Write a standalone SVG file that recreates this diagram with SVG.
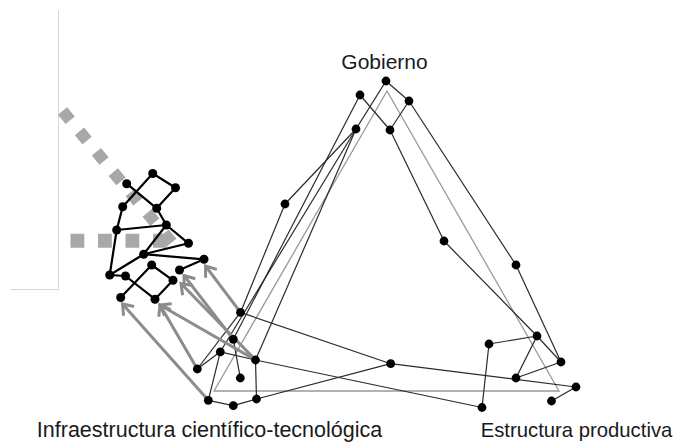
<svg xmlns="http://www.w3.org/2000/svg" width="694" height="442" viewBox="0 0 694 442">
<style>
.e{stroke:#2a2a2a;stroke-width:1.2;fill:none}
.t{stroke:#000;stroke-width:2.2;fill:none;stroke-linecap:round}
.a{stroke:#8c8c8c;stroke-width:3;fill:none;marker-end:url(#ah)}
.n{fill:#000}
.lbl{font-family:"Liberation Sans",Arial,sans-serif;fill:#1a1a1a}
</style>
<defs>
<marker id="ah" markerUnits="userSpaceOnUse" markerWidth="16" markerHeight="18" viewBox="-13 -9 16 18" refX="0" refY="0" orient="auto" overflow="visible">
<path d="M-9.5,-7 L0,0 L-9.5,7" fill="none" stroke="#8c8c8c" stroke-width="3"/>
</marker>
</defs>
<rect width="694" height="442" fill="#fff"/>
<g id="frame">
<line x1="58.5" y1="10" x2="58.5" y2="289.5" stroke="#d6d6d6" stroke-width="1"/>
<line x1="11" y1="289.5" x2="58.5" y2="289.5" stroke="#d6d6d6" stroke-width="1"/>
</g>
<g id="dashed">
<line x1="62.5" y1="111" x2="173" y2="244" stroke="#a8a8a8" stroke-width="12" stroke-dasharray="12 14.5"/>
<line x1="70.5" y1="240.8" x2="168" y2="240.8" stroke="#a8a8a8" stroke-width="14" stroke-dasharray="13.8 13.7"/>
</g>
<g id="triangle">
<polygon points="387,91 214,391 559,391" fill="none" stroke="#999" stroke-width="1.3"/>
</g>
<g id="connectors">
<line class="e" x1="386" y1="81" x2="409" y2="101"/>
<line class="e" x1="386" y1="81" x2="356" y2="129"/>
<line class="e" x1="360" y1="95" x2="390" y2="130"/>
<line class="e" x1="390" y1="130" x2="409" y2="101"/>
<line class="e" x1="409" y1="101" x2="516" y2="265"/>
<line class="e" x1="390" y1="130" x2="444" y2="241"/>
<line class="e" x1="444" y1="241" x2="537" y2="336"/>
<line class="e" x1="537" y1="336" x2="561" y2="362"/>
<line class="e" x1="516" y1="265" x2="561" y2="362"/>
<line class="e" x1="489" y1="344" x2="537" y2="336"/>
<line class="e" x1="537" y1="336" x2="516" y2="378"/>
<line class="e" x1="516" y1="378" x2="561" y2="362"/>
<line class="e" x1="489" y1="344" x2="482" y2="407.5"/>
<line class="e" x1="390.7" y1="363.7" x2="576" y2="387"/>
<line class="e" x1="551.5" y1="401" x2="576" y2="387"/>
<line class="e" x1="220.3" y1="351.8" x2="255.5" y2="360"/>
<line class="e" x1="255.5" y1="360" x2="482" y2="407.5"/>
<line class="e" x1="240.5" y1="312.4" x2="390.7" y2="363.7"/>
<line class="e" x1="390.7" y1="363.7" x2="256.5" y2="399"/>
<line class="e" x1="256.5" y1="399" x2="233.3" y2="405.7"/>
<line class="e" x1="233.3" y1="405.7" x2="208.3" y2="400.3"/>
<line class="e" x1="208.3" y1="400.3" x2="220.3" y2="351.8"/>
<line class="e" x1="220.3" y1="351.8" x2="197.3" y2="369"/>
<line class="e" x1="240.5" y1="312.4" x2="197.3" y2="369"/>
<line class="e" x1="285" y1="204" x2="240.5" y2="312.4"/>
<line class="e" x1="356" y1="129" x2="285" y2="204"/>
<line class="e" x1="360" y1="95" x2="233.3" y2="339.3"/>
<line class="e" x1="356" y1="129" x2="220.3" y2="351.8"/>
<line class="e" x1="356" y1="129" x2="255.5" y2="360"/>
<line class="e" x1="255.5" y1="360" x2="256.5" y2="399"/>
<line class="e" x1="233.3" y1="339.3" x2="240.3" y2="378"/>
<line class="t" x1="152.7" y1="173.5" x2="175.5" y2="187.8"/>
<line class="t" x1="152.7" y1="173.5" x2="122.7" y2="206.7"/>
<line class="t" x1="126.7" y1="183.7" x2="156.7" y2="208.3"/>
<line class="t" x1="175.5" y1="187.8" x2="156.7" y2="208.3"/>
<line class="t" x1="122.7" y1="206.7" x2="116.7" y2="230"/>
<line class="t" x1="156.7" y1="208.3" x2="166.3" y2="225"/>
<line class="t" x1="116.7" y1="230" x2="166.3" y2="225"/>
<line class="t" x1="166.3" y1="225" x2="188.5" y2="243.3"/>
<line class="t" x1="166.3" y1="225" x2="143.7" y2="254.2"/>
<line class="t" x1="188.5" y1="243.3" x2="143.7" y2="254.2"/>
<line class="t" x1="116.7" y1="230" x2="109.7" y2="275"/>
<line class="t" x1="143.7" y1="254.2" x2="109.7" y2="275"/>
<line class="t" x1="143.7" y1="254.2" x2="204" y2="259.3"/>
<line class="t" x1="109.7" y1="275" x2="125.5" y2="276"/>
<line class="t" x1="125.5" y1="276" x2="155" y2="299.2"/>
<line class="t" x1="151.7" y1="265" x2="120.7" y2="297.5"/>
<line class="t" x1="151.7" y1="265" x2="173" y2="280.3"/>
<line class="t" x1="173" y1="280.3" x2="155" y2="299.2"/>
<line class="t" x1="179.5" y1="270" x2="204" y2="259.3"/>
<line class="a" x1="240.5" y1="312.4" x2="205.5" y2="266"/>
<line class="a" x1="233.3" y1="339.3" x2="184" y2="275.5"/>
<line class="a" x1="255.5" y1="360" x2="181" y2="283.5"/>
<line class="a" x1="255.5" y1="360" x2="160" y2="305"/>
<line class="a" x1="197.3" y1="369" x2="160" y2="305"/>
<line class="a" x1="208.3" y1="400.3" x2="122.5" y2="304"/>
</g>
<g id="n1"><circle class="n" cx="386" cy="81" r="4.4"/></g>
<g id="n2"><circle class="n" cx="360" cy="95" r="4.4"/></g>
<g id="n3"><circle class="n" cx="409" cy="101" r="4.4"/></g>
<g id="n4"><circle class="n" cx="356" cy="129" r="4.4"/></g>
<g id="n5"><circle class="n" cx="390" cy="130" r="4.4"/></g>
<g id="n6"><circle class="n" cx="285" cy="204" r="4.4"/></g>
<g id="n7"><circle class="n" cx="444" cy="241" r="4.4"/></g>
<g id="n8"><circle class="n" cx="516" cy="265" r="4.4"/></g>
<g id="n9"><circle class="n" cx="537" cy="336" r="4.4"/></g>
<g id="n10"><circle class="n" cx="489" cy="344" r="4.4"/></g>
<g id="n11"><circle class="n" cx="561" cy="362" r="4.4"/></g>
<g id="n12"><circle class="n" cx="516" cy="378" r="4.4"/></g>
<g id="n13"><circle class="n" cx="576" cy="387" r="4.4"/></g>
<g id="n14"><circle class="n" cx="551.5" cy="401" r="4.4"/></g>
<g id="n15"><circle class="n" cx="482" cy="407.5" r="4.4"/></g>
<g id="n16"><circle class="n" cx="390.7" cy="363.7" r="4.4"/></g>
<g id="na"><circle class="n" cx="240.5" cy="312.4" r="4.4"/></g>
<g id="nb"><circle class="n" cx="233.3" cy="339.3" r="4.4"/></g>
<g id="nc"><circle class="n" cx="220.3" cy="351.8" r="4.4"/></g>
<g id="nd"><circle class="n" cx="197.3" cy="369" r="4.4"/></g>
<g id="ne"><circle class="n" cx="255.5" cy="360" r="4.4"/></g>
<g id="nf"><circle class="n" cx="240.3" cy="378" r="4.4"/></g>
<g id="ng"><circle class="n" cx="208.3" cy="400.3" r="4.4"/></g>
<g id="nh"><circle class="n" cx="233.3" cy="405.7" r="4.4"/></g>
<g id="ni"><circle class="n" cx="256.5" cy="399" r="4.4"/></g>
<g id="t1"><circle class="n" cx="152.7" cy="173.5" r="4.5"/></g>
<g id="t2"><circle class="n" cx="126.7" cy="183.7" r="4.5"/></g>
<g id="t3"><circle class="n" cx="175.5" cy="187.8" r="4.5"/></g>
<g id="t4"><circle class="n" cx="122.7" cy="206.7" r="4.5"/></g>
<g id="t5"><circle class="n" cx="156.7" cy="208.3" r="4.5"/></g>
<g id="t6"><circle class="n" cx="166.3" cy="225" r="4.5"/></g>
<g id="t7"><circle class="n" cx="116.7" cy="230" r="4.5"/></g>
<g id="t8"><circle class="n" cx="188.5" cy="243.3" r="4.5"/></g>
<g id="t9"><circle class="n" cx="143.7" cy="254.2" r="4.5"/></g>
<g id="t10"><circle class="n" cx="204" cy="259.3" r="4.5"/></g>
<g id="t11"><circle class="n" cx="109.7" cy="275" r="4.5"/></g>
<g id="t12"><circle class="n" cx="151.7" cy="265" r="4.5"/></g>
<g id="t13"><circle class="n" cx="179.5" cy="270" r="4.5"/></g>
<g id="t14"><circle class="n" cx="125.5" cy="276" r="4.5"/></g>
<g id="t15"><circle class="n" cx="173" cy="280.3" r="4.5"/></g>
<g id="t16"><circle class="n" cx="120.7" cy="297.5" r="4.5"/></g>
<g id="t17"><circle class="n" cx="155" cy="299.2" r="4.5"/></g>
<g id="labels">
<text class="lbl" x="384.5" y="69" text-anchor="middle" font-size="21">Gobierno</text>
<text class="lbl" x="209.5" y="437" text-anchor="middle" font-size="21.5">Infraestructura científico-tecnológica</text>
<text class="lbl" x="576.5" y="437" text-anchor="middle" font-size="20.3">Estructura productiva</text>
</g>
</svg>
